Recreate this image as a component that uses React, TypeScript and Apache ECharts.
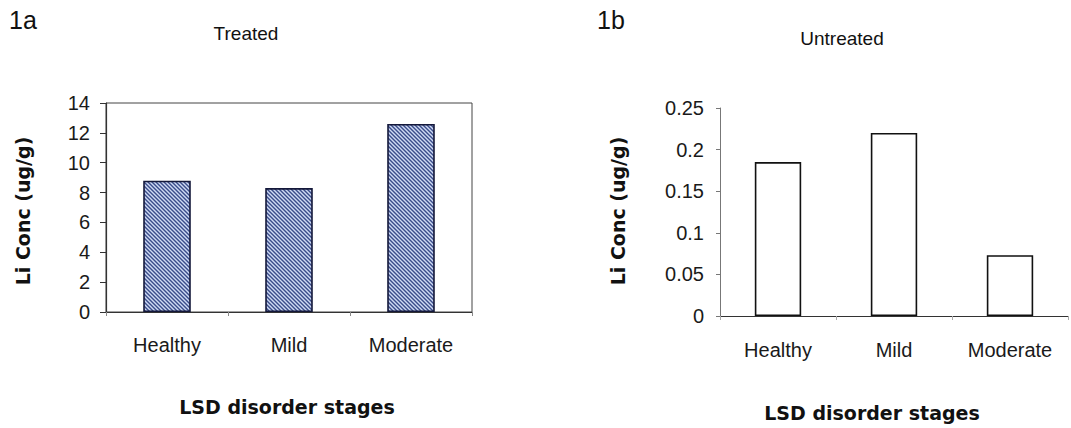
import React, { useEffect, useRef } from "react";
import * as echarts from "echarts";

const categories = ["Healthy", "Mild", "Moderate"];
const treatedValues = [8.8, 8.3, 12.6];
const untreatedValues = [0.185, 0.22, 0.073];
const treatedYTicks = [0, 2, 4, 6, 8, 10, 12, 14];
const untreatedYTicks = [0, 0.05, 0.1, 0.15, 0.2, 0.25];
const panelLabels = ["1a", "1b"];
const panelTitles = ["Treated", "Untreated"];
const yName = "Li Conc (ug/g)";
const xName = "LSD disorder stages";

const LABEL_FONT = "'Liberation Sans', Arial, sans-serif";
const NAME_FONT = "'DejaVu Sans', 'Liberation Sans', sans-serif";

function makeHatch(): HTMLCanvasElement {
  const c = document.createElement("canvas");
  c.width = 8;
  c.height = 8;
  const ctx = c.getContext("2d")!;
  ctx.fillStyle = "#cfdaf4";
  ctx.fillRect(0, 0, 8, 8);
  ctx.strokeStyle = "#3a4c8a";
  ctx.lineWidth = 1.4;
  for (let k = -12; k <= 12; k += 4) {
    ctx.beginPath();
    ctx.moveTo(k, -2);
    ctx.lineTo(k + 12, 10);
    ctx.stroke();
  }
  return c;
}

export default function App() {
  const ref = useRef<HTMLDivElement>(null);
  useEffect(() => {
    if (!ref.current) return;
    const chart = echarts.init(ref.current, null, { renderer: "svg" });
    const hatch = makeHatch();
    const axisLabel = { color: "#1a1a1a", fontSize: 20, fontFamily: LABEL_FONT };
    chart.setOption({
      animation: false,
      backgroundColor: "#ffffff",
      grid: [
        { left: 106, right: 599, top: 103, bottom: 116, show: true, borderColor: "#444", borderWidth: 1, backgroundColor: "transparent" },
        { left: 720, right: 3, top: 108, bottom: 112 },
      ],
      xAxis: [
        {
          gridIndex: 0,
          type: "category",
          data: categories,
          axisLine: { lineStyle: { color: "#333", width: 1.2 } },
          axisTick: { show: true, length: 4, lineStyle: { color: "#888" } },
          axisLabel: { ...axisLabel, margin: 23 },
        },
        {
          gridIndex: 1,
          type: "category",
          data: categories,
          axisLine: { lineStyle: { color: "#333", width: 1.2 } },
          axisTick: { show: true, length: 4, lineStyle: { color: "#aaa" } },
          axisLabel: { ...axisLabel, margin: 24 },
        },
      ],
      yAxis: [
        {
          gridIndex: 0,
          type: "value",
          min: treatedYTicks[0],
          max: treatedYTicks[treatedYTicks.length - 1],
          interval: treatedYTicks[1] - treatedYTicks[0],
          axisLine: { show: true, lineStyle: { color: "#333", width: 1.2 } },
          axisTick: { show: true, length: 6, lineStyle: { color: "#333" } },
          splitLine: { show: false },
          axisLabel: { ...axisLabel, margin: 16 },
        },
        {
          gridIndex: 1,
          type: "value",
          min: untreatedYTicks[0],
          max: untreatedYTicks[untreatedYTicks.length - 1],
          interval: 0.05,
          axisLine: { show: true, lineStyle: { color: "#777", width: 1 } },
          axisTick: { show: true, length: 4, lineStyle: { color: "#777" } },
          splitLine: { show: false },
          axisLabel: { ...axisLabel, margin: 16 },
        },
      ],
      series: [
        {
          type: "bar",
          xAxisIndex: 0,
          yAxisIndex: 0,
          data: treatedValues,
          barWidth: "39%",
          itemStyle: {
            color: { image: hatch, repeat: "repeat" },
            borderColor: "#14183a",
            borderWidth: 1.6,
          },
        },
        {
          type: "bar",
          xAxisIndex: 1,
          yAxisIndex: 1,
          data: untreatedValues,
          barWidth: "40%",
          itemStyle: {
            color: "#ffffff",
            borderColor: "#111",
            borderWidth: 1.6,
          },
        },
      ],
      graphic: [
        { type: "text", x: 23, y: 20, style: { text: panelLabels[0], font: `25px ${LABEL_FONT}`, fill: "#111", align: "center", verticalAlign: "middle" } },
        { type: "text", x: 611, y: 20, style: { text: panelLabels[1], font: `25px ${LABEL_FONT}`, fill: "#111", align: "center", verticalAlign: "middle" } },
        { type: "text", x: 246, y: 33, style: { text: panelTitles[0], font: `19px ${LABEL_FONT}`, fill: "#111", align: "center", verticalAlign: "middle" } },
        { type: "text", x: 842, y: 38, style: { text: panelTitles[1], font: `19px ${LABEL_FONT}`, fill: "#111", align: "center", verticalAlign: "middle" } },
        { type: "text", x: 23, y: 211, rotation: Math.PI / 2, style: { text: yName, font: `bold 19px ${NAME_FONT}`, fill: "#111", align: "center", verticalAlign: "middle" } },
        { type: "text", x: 618, y: 211, rotation: Math.PI / 2, style: { text: yName, font: `bold 19px ${NAME_FONT}`, fill: "#111", align: "center", verticalAlign: "middle" } },
        { type: "text", x: 287, y: 407, style: { text: xName, font: `bold 19px ${NAME_FONT}`, fill: "#111", align: "center", verticalAlign: "middle" } },
        { type: "text", x: 872, y: 413, style: { text: xName, font: `bold 19px ${NAME_FONT}`, fill: "#111", align: "center", verticalAlign: "middle" } },
      ],
    });
    return () => chart.dispose();
  }, []);
  return <div ref={ref} style={{ position: "absolute", left: 0, top: 0, width: 1071, height: 428 }} />;
}
